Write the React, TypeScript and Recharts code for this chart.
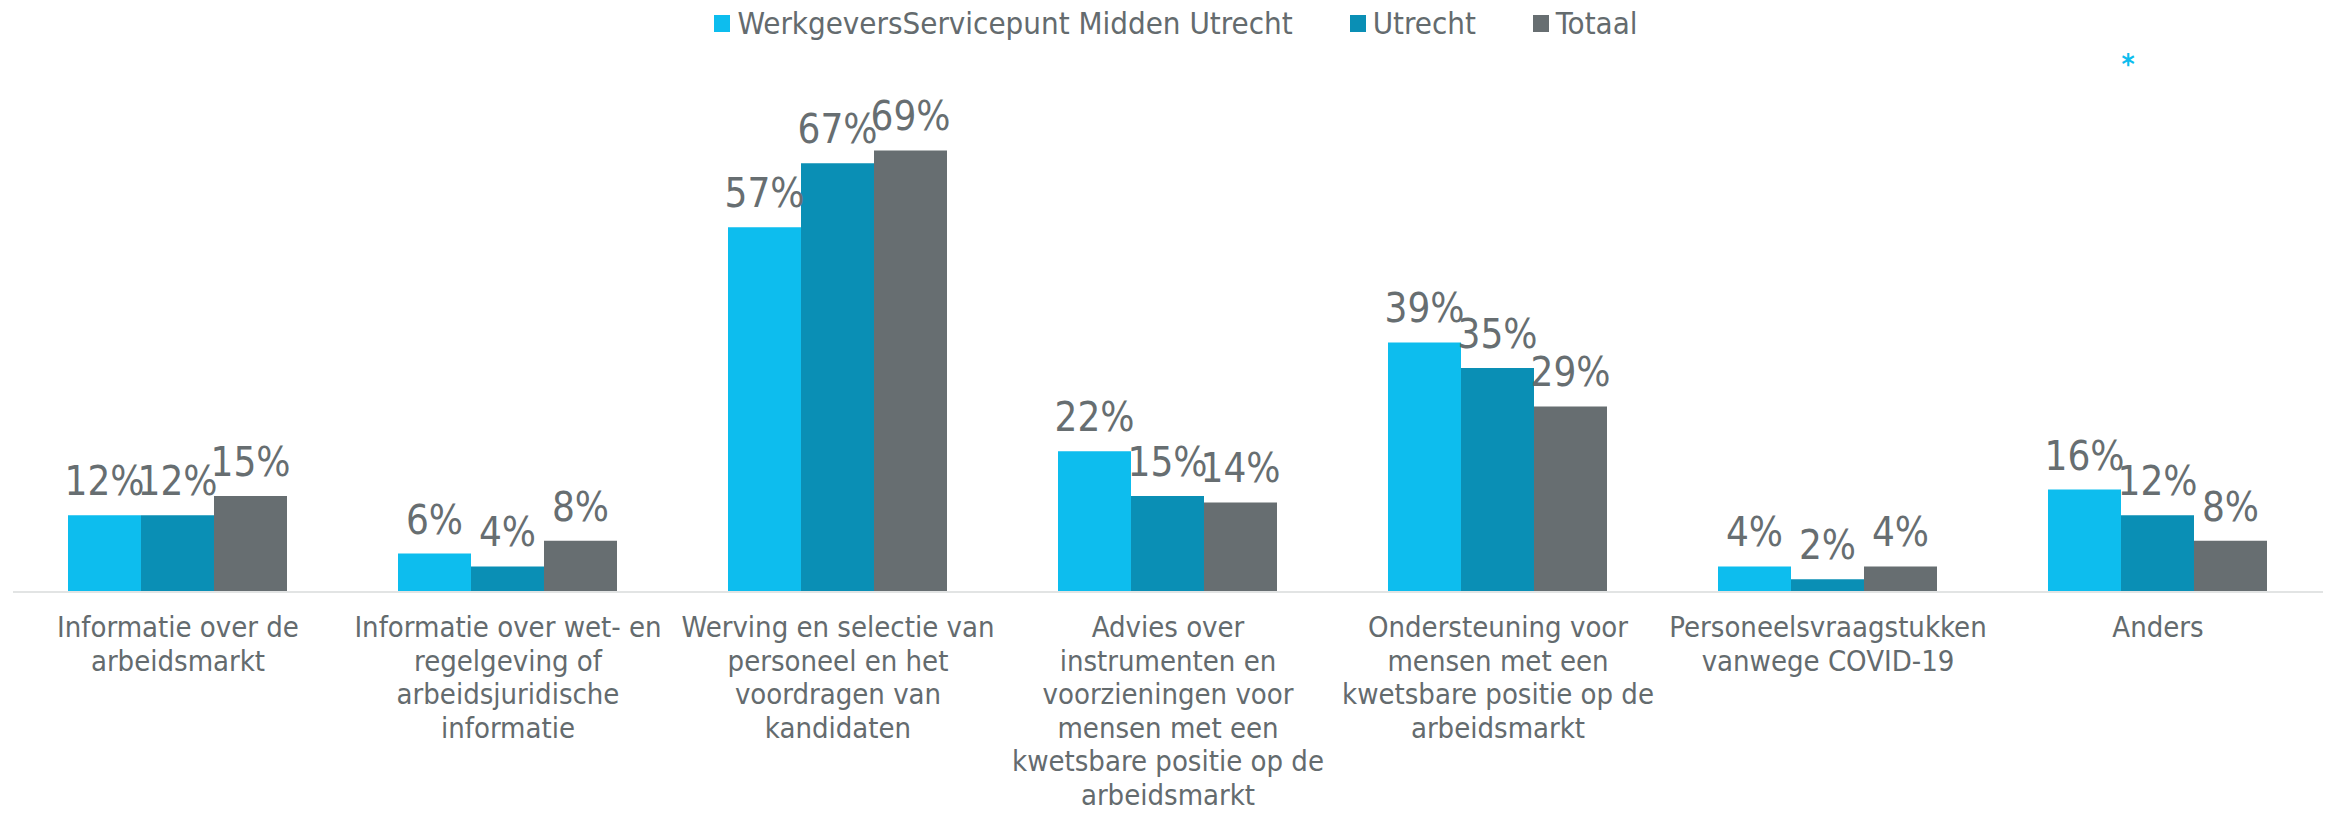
import { Bar, BarChart, LabelList, Legend, ReferenceDot, XAxis, YAxis } from 'recharts';

const categories = [
  'Informatie over de\narbeidsmarkt',
  'Informatie over wet- en\nregelgeving of\narbeidsjuridische\ninformatie',
  'Werving en selectie van\npersoneel en het\nvoordragen van\nkandidaten',
  'Advies over\ninstrumenten en\nvoorzieningen voor\nmensen met een\nkwetsbare positie op de\narbeidsmarkt',
  'Ondersteuning voor\nmensen met een\nkwetsbare positie op de\narbeidsmarkt',
  'Personeelsvraagstukken\nvanwege COVID-19',
  'Anders',
];

const wspMiddenUtrecht = [12, 6, 57, 22, 39, 4, 16];
const utrecht = [12, 4, 67, 15, 35, 2, 12];
const totaal = [15, 8, 69, 14, 29, 4, 8];

const seriesKeys = ['wsp', 'utrecht', 'totaal'];
const seriesNames = ['WerkgeversServicepunt Midden Utrecht', 'Utrecht', 'Totaal'];
const seriesColors = ['#0dbdee', '#0a8fb5', '#676e71'];

// the blue asterisk above "Anders"
const noteCategory = categories[6];
const noteMark = '*';

const data = categories.map((category, i) => ({
  category,
  wsp: wspMiddenUtrecht[i],
  utrecht: utrecht[i],
  totaal: totaal[i],
}));

const textFont = "'DejaVu Sans Condensed', 'DejaVu Sans', sans-serif";
const numberFont = "'Liberation Sans Narrow', 'DejaVu Sans Condensed', sans-serif";
const textColor = '#646b6e';

const CategoryTick = ({ x, y, payload }: any) => {
  const lines = String(payload.value).split('\n');
  return (
    <text
      x={x}
      y={y}
      textAnchor='middle'
      fill={textColor}
      fontSize={29}
      fontFamily={textFont}
    >
      {lines.map((line, i) => (
        <tspan key={i} x={x} dy={i === 0 ? 45 : 33.6}>
          {line}
        </tspan>
      ))}
    </text>
  );
};

const LegendContent = () => (
  <div
    style={{
      display: 'flex',
      justifyContent: 'center',
      alignItems: 'center',
      gap: 57,
      fontFamily: textFont,
      fontSize: 31,
      color: textColor,
      lineHeight: '36px',
    }}
  >
    {seriesNames.map((name, i) => (
      <div key={name} style={{ display: 'flex', alignItems: 'center' }}>
        <span
          style={{
            display: 'inline-block',
            width: 16,
            height: 17,
            marginRight: 7,
            background: seriesColors[i],
          }}
        />
        {name}
      </div>
    ))}
  </div>
);

export default function App() {
  return (
    <div style={{ position: 'absolute', left: 0, top: 0, background: '#fff' }}>
      <BarChart
        width={2328}
        height={813}
        data={data}
        margin={{ top: 80, right: 5, bottom: 0, left: 13 }}
        barGap={0}
        barCategoryGap={55}
      >
        <XAxis
          dataKey='category'
          interval={0}
          height={221}
          tickSize={0}
          tickMargin={0}
          tickLine={false}
          axisLine={{ stroke: '#e2e4e4', strokeWidth: 2 }}
          tick={<CategoryTick />}
        />
        <YAxis hide domain={[0, 80]} />
        <Legend
          verticalAlign='middle'
          align='center'
          layout='horizontal'
          content={<LegendContent />}
          wrapperStyle={{ top: 5, left: 12, width: 2328 }}
        />
        {seriesKeys.map((key, i) => (
          <Bar
            key={key}
            dataKey={key}
            name={seriesNames[i]}
            fill={seriesColors[i]}
            isAnimationActive={false}
          >
            <LabelList
              dataKey={key}
              position='top'
              offset={20}
              formatter={(v: any) => `${v}%`}
              fill='#676e71'
              fontSize={40}
              fontFamily={numberFont}
            />
          </Bar>
        ))}
        <ReferenceDot
          x={noteCategory}
          y={80}
          r={0}
          ifOverflow='visible'
          shape={(p: any) => (
            <text
              x={p.cx - 30}
              y={p.cy - 6}
              textAnchor='middle'
              fill={seriesColors[0]}
              fontSize={28}
              fontWeight='bold'
              fontFamily={textFont}
            >
              {noteMark}
            </text>
          )}
        />
      </BarChart>
    </div>
  );
}
